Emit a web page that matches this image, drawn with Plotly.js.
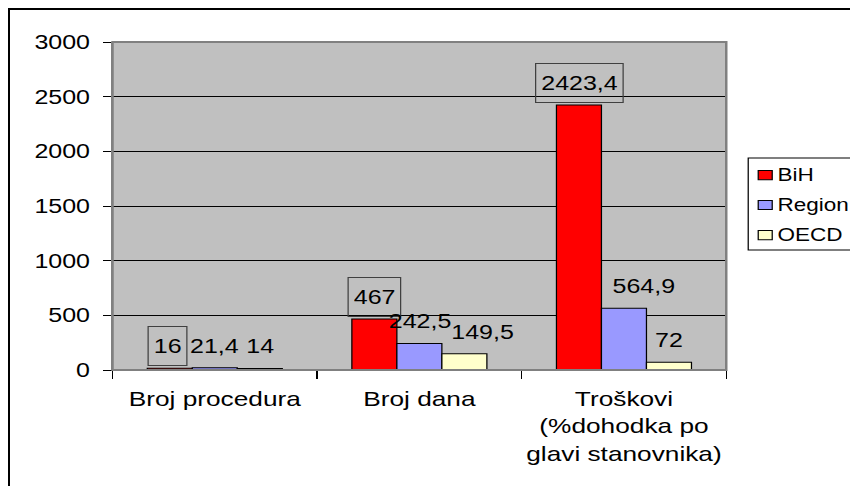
<!DOCTYPE html>
<html>
<head>
<meta charset="utf-8">
<script src="https://cdn.plot.ly/plotly-3.0.1.min.js"></script>
<style>
  body { margin: 0; background: #fff; overflow: hidden; }
  #frame { position: absolute; left: 8px; top: 8px; width: 860px; height: 500px; border: 2px solid #000; box-sizing: border-box; }
  /* the original chart was stretched sideways, so draw narrower and widen */
  #chart { position: absolute; left: 0; top: 0; width: 680px; height: 486px; transform: scaleX(1.25); transform-origin: 0 0; }
</style>
</head>
<body>
<div id="frame"></div>
<div id="chart"></div>
<script>
// categories and series
const categories = ["Broj procedura", "Broj dana", "Troškovi<br>(%dohodka po<br>glavi stanovnika)"];
const seriesNames = ["BiH", "Region", "OECD"];
const bihValues = [16, 467, 2423.4];
const regionValues = [21.4, 242.5, 564.9];
const oecdValues = [14, 149.5, 72];
const yTicks = [0, 500, 1000, 1500, 2000, 2500, 3000];

const colors = ["#ff0000", "#9999ff", "#ffffcc"];
const allValues = [bihValues, regionValues, oecdValues];
const FONT = "Liberation Sans, Arial, sans-serif";

const fmt = (v) => String(v).replace(".", ",");

const traces = allValues.map((vals, i) => ({
    type: "bar",
    name: seriesNames[i],
    x: categories,
    y: vals,
    marker: { color: colors[i], line: { color: "#000", width: 1 } },
    hoverinfo: "skip",
    showlegend: false,
}));

// data labels: BiH boxed, others plain
const shifts = [-36, 0, 36];
// excel pushed a couple of labels sideways so they don't collide
const nudge = { "0,0": -2, "1,2": 14, "2,1": 16 };
const annotations = [];
allValues.forEach((vals, i) => {
    vals.forEach((v, j) => {
        const boxed = i === 0;
        annotations.push({
            x: categories[j],
            y: v,
            xref: "x",
            yref: "y",
            text: fmt(v),
            showarrow: false,
            xshift: shifts[i] + (nudge[j + "," + i] || 0),
            yshift: 22,
            yanchor: "middle",
            font: { family: FONT, size: 20, color: "#000" },
            height: boxed ? 30 : undefined,
            bordercolor: boxed ? "#404040" : "rgba(0,0,0,0)",
            borderwidth: boxed ? 1 : 0,
            borderpad: 4,
        });
    });
});

// legend drawn by hand: plotly's own legend leaves too wide a gap before the text
const shapes = [{
    type: "rect", xref: "paper", yref: "paper", x0: 0, x1: 1, y0: 0, y1: 1,
    line: { color: "#808080", width: 2 }, layer: "above",
}, {
    type: "rect", xref: "paper", yref: "paper", x0: 1.0358, x1: 1.3, y0: 0.366, y1: 0.646,
    line: { color: "#000", width: 1 }, fillcolor: "#fff",
}];
const legendRows = [0.594, 0.503, 0.411];
seriesNames.forEach((name, i) => {
    shapes.push({
        type: "rect", xref: "paper", yref: "paper",
        x0: 1.0521, x1: 1.0749, y0: legendRows[i] - 0.014, y1: legendRows[i] + 0.014,
        line: { color: "#000", width: 1 }, fillcolor: colors[i],
    });
    annotations.push({
        xref: "paper", yref: "paper", x: 1.079, y: legendRows[i],
        xanchor: "left", yanchor: "middle", text: name, showarrow: false,
        font: { family: FONT, size: 18, color: "#000" },
    });
});

const layout = {
    width: 680,
    height: 486,
    margin: { l: 89.6, r: 99.2, t: 42, b: 116, autoexpand: false },
    paper_bgcolor: "rgba(0,0,0,0)",
    plot_bgcolor: "#c0c0c0",
    barmode: "group",
    bargap: 0.34,
    bargroupgap: 0,
    font: { family: FONT, size: 19, color: "#000" },
    xaxis: {
        type: "category",
        tickson: "boundaries",
        ticks: "outside",
        ticklen: 8,
        tickcolor: "#000",
        tickangle: 0,
        showline: true,
        linecolor: "#000",
        showgrid: false,
        automargin: false,
        ticklabelstandoff: 10,
        tickfont: { family: FONT, size: 21 },
    },
    yaxis: {
        range: [0, 3000],
        tickvals: yTicks,
        ticktext: yTicks.map(String),
        ticks: "outside",
        ticklen: 7,
        tickcolor: "#000",
        showline: true,
        linecolor: "#808080",
        gridcolor: "#000",
        gridwidth: 1,
        zeroline: false,
        automargin: false,
        ticklabelstandoff: 6,
        tickfont: { family: FONT, size: 20 },
    },
    shapes: shapes,
    annotations: annotations,
    showlegend: false,
};

Plotly.newPlot("chart", traces, layout, { displayModeBar: false, staticPlot: true });
</script>
</body>
</html>
